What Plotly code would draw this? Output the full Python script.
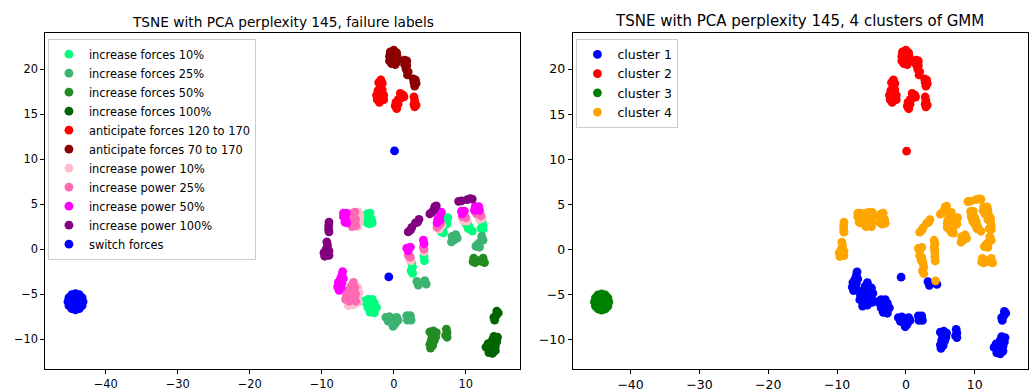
import plotly.graph_objects as go

# ---------------- data: t-SNE points (x, y, GMM cluster) per failure label ----------------
inc_forces_10 = [
    (-3.7, 3.9, 4), (-3.3, 4.0, 4), (-3.6, 3.4, 4), (-3.1, 3.3, 4), (-3.4, 2.8, 4),
    (-3.0, 2.9, 4), (-3.7, 2.9, 4),
    (-3.6, -5.6, 1), (-3.0, -5.6, 1), (-3.8, -6.0, 1), (-3.3, -6.1, 1), (-2.7, -6.0, 1),
    (-3.6, -6.5, 1), (-3.0, -6.6, 1), (-2.4, -6.5, 1), (-3.3, -7.0, 1), (-2.7, -7.1, 1),
    (-4.1, -5.8, 1),
    (2.5, -1.6, 4), (2.6, -2.0, 4), (2.4, -2.4, 4), (2.6, -2.7, 4),
    (4.2, -0.8, 4), (4.25, -1.3, 4),
    (7.5, 3.5, 4), (7.3, 3.1, 4), (7.0, 2.7, 4), (6.8, 2.3, 4), (6.6, 1.9, 4),
    (6.9, 1.8, 4), (7.4, 2.8, 4),
    (10.0, 2.8, 4), (10.4, 2.6, 4), (10.6, 2.2, 4), (10.9, 2.0, 4), (10.3, 2.3, 4),
    (12.3, 3.0, 4), (12.4, 2.6, 4), (12.1, 2.3, 4), (12.4, 2.2, 4),
]
inc_forces_25 = [
    (-1.1, -7.6, 1), (-0.6, -7.5, 1), (-0.1, -7.7, 1), (0.4, -7.6, 1), (0.6, -7.9, 1),
    (-0.8, -8.0, 1), (-0.3, -8.2, 1), (0.2, -8.3, 1), (-0.1, -8.6, 1),
    (1.8, -7.4, 1), (2.3, -7.4, 1), (1.9, -7.9, 1), (2.4, -7.9, 1), (2.1, -7.6, 1),
    (3.2, -3.6, 1), (3.4, -4.0, 1), (4.5, -3.9, 1), (4.3, -3.5, 4),
    (8.1, 1.4, 4), (8.6, 1.6, 4), (8.3, 1.0, 4), (8.8, 1.2, 4), (8.0, 0.8, 4),
    (12.2, 1.4, 4), (12.4, 1.0, 4), (12.0, 0.8, 4), (11.6, 0.5, 4), (11.9, 0.2, 4), (11.4, 0.3, 4),
]
inc_forces_50 = [
    (11.1, -1.0, 4), (11.3, -1.5, 4), (11.0, -1.4, 4), (12.4, -1.0, 4), (12.6, -1.5, 4),
    (12.3, -1.4, 4), (11.8, -1.3, 4),
    (5.0, -9.2, 1), (5.5, -9.1, 1), (5.9, -9.3, 1), (5.3, -9.6, 1), (5.8, -9.8, 1),
    (5.2, -10.1, 1), (5.6, -10.2, 1), (5.0, -10.6, 1), (5.1, -11.0, 1), (5.4, -10.7, 1),
    (7.3, -8.9, 1), (7.4, -9.3, 1), (7.2, -9.6, 1), (7.4, -9.8, 1),
]
inc_forces_100 = [
    (14.3, -6.9, 1), (14.5, -7.1, 1), (14.2, -7.4, 1), (13.9, -7.6, 1), (14.0, -7.9, 1),
    (13.9, -9.7, 1), (14.4, -9.8, 1), (13.7, -10.1, 1), (14.3, -10.3, 1), (13.1, -10.5, 1),
    (13.6, -10.6, 1), (14.1, -10.8, 1), (12.8, -10.9, 1), (13.3, -11.1, 1), (13.8, -11.2, 1),
    (13.2, -11.5, 1), (13.7, -11.6, 1), (14.1, -11.3, 1),
]
antic_120_170 = [
    (-1.8, 18.8, 2), (-2.1, 18.5, 2), (-1.6, 18.4, 2), (-1.9, 18.0, 2), (-2.2, 17.6, 2),
    (-1.6, 17.7, 2), (-2.4, 17.1, 2), (-1.9, 17.2, 2), (-1.4, 17.1, 2), (-2.3, 16.6, 2),
    (-1.8, 16.6, 2), (-1.4, 16.6, 2), (-2.0, 16.3, 2),
    (0.9, 17.3, 2), (1.3, 17.1, 2), (1.0, 16.8, 2), (0.6, 16.6, 2), (0.3, 16.3, 2),
    (0.6, 16.1, 2), (0.2, 15.9, 2), (0.4, 15.6, 2), (1.4, 16.9, 2),
    (2.8, 16.9, 2), (2.9, 16.5, 2), (2.8, 16.1, 2), (3.1, 16.0, 2), (2.9, 15.8, 2),
]
antic_70_170 = [
    (-0.5, 21.9, 2), (0.0, 22.1, 2), (0.4, 21.8, 2), (-0.6, 21.4, 2), (-0.1, 21.5, 2),
    (0.5, 21.3, 2), (-0.6, 20.9, 2), (-0.1, 20.9, 2), (0.4, 20.8, 2), (-0.3, 20.6, 2),
    (0.2, 20.5, 2), (0.0, 21.9, 2),
    (1.5, 21.0, 2), (1.8, 20.9, 2), (1.5, 20.5, 2), (1.8, 20.4, 2), (1.7, 20.0, 2),
    (2.0, 19.7, 2), (1.9, 19.35, 2),
    (2.7, 18.9, 2), (3.0, 18.8, 2), (2.8, 18.5, 2), (3.1, 18.4, 2), (2.9, 18.1, 2),
]
inc_power_10 = [
    (-4.9, 4.1, 4), (-4.7, 3.7, 4), (-4.8, 3.0, 4), (-5.0, 2.5, 4),
    (-5.0, -4.3, 1), (-4.8, -4.9, 1), (-5.0, -5.5, 1), (-5.6, -6.2, 1), (-6.3, -6.3, 1), (-4.9, -5.9, 1),
    (2.2, -1.2, 4), (2.4, -1.3, 4), (4.2, -0.3, 4),
    (6.3, 2.2, 4), (6.7, 2.6, 4),
    (9.7, 3.1, 4), (10.2, 3.1, 4),
    (12.3, 3.4, 4), (11.9, 3.3, 4),
]
inc_power_25 = [
    (-5.8, 4.0, 4), (-5.4, 4.1, 4), (-5.7, 3.5, 4), (-5.3, 3.3, 4), (-5.6, 2.9, 4),
    (-5.3, 2.6, 4), (-5.8, 2.5, 4),
    (-5.6, -3.7, 1), (-5.9, -4.1, 1), (-5.4, -4.3, 1), (-6.3, -4.6, 1), (-5.7, -4.7, 1),
    (-5.3, -5.0, 1), (-6.6, -5.1, 1), (-6.0, -5.3, 1), (-5.5, -5.5, 1), (-6.7, -5.6, 1),
    (-6.2, -5.8, 1), (-5.3, -5.8, 1),
    (2.0, -0.7, 4), (2.3, -0.9, 4),
    (4.1, 0.2, 4), (4.2, 0.0, 4),
    (6.2, 2.6, 4), (6.5, 2.9, 4), (6.0, 2.4, 4),
    (9.5, 3.6, 4), (10.0, 3.5, 4),
    (11.5, 3.9, 4), (12.1, 3.7, 4),
]
inc_power_50 = [
    (-7.0, 4.0, 4), (-6.6, 4.0, 4), (-7.0, 3.6, 4), (-6.7, 3.3, 4), (-6.5, 2.9, 4), (-6.8, 3.0, 4),
    (-7.1, -2.5, 1), (-7.2, -2.9, 1), (-7.4, -3.3, 1), (-7.0, -3.3, 1), (-7.7, -3.7, 1),
    (-7.2, -3.8, 1), (-7.8, -4.2, 1), (-7.3, -4.3, 1), (-7.6, -4.6, 1),
    (1.8, 0.1, 4), (2.3, 0.2, 4), (2.0, -0.2, 4),
    (4.1, 1.0, 4), (4.2, 0.6, 4),
    (6.6, 4.1, 4), (6.4, 3.7, 4), (6.1, 3.3, 4), (6.0, 2.9, 4), (6.4, 3.2, 4),
    (9.4, 4.2, 4), (9.8, 4.2, 4), (9.5, 3.9, 4),
    (11.3, 4.7, 4), (11.8, 4.7, 4), (11.2, 4.3, 4), (11.9, 4.3, 4),
]
inc_power_100 = [
    (-9.0, 3.0, 4), (-9.05, 2.6, 4), (-9.05, 2.2, 4), (-9.0, 1.9, 4),
    (-9.3, 0.8, 4), (-9.2, 0.4, 4), (-9.4, 0.0, 4), (-9.0, -0.2, 4), (-9.7, -0.4, 4),
    (-9.2, -0.6, 4), (-9.6, -0.8, 4), (-9.0, -0.7, 4),
    (2.0, 1.9, 4), (2.3, 2.1, 4), (2.5, 2.4, 4), (3.0, 2.9, 4), (3.3, 3.0, 4), (3.5, 3.3, 4),
    (5.0, 3.9, 4), (5.3, 4.1, 4), (5.6, 4.4, 4), (5.9, 4.8, 4), (5.7, 4.7, 4),
    (9.0, 5.3, 4), (9.4, 5.35, 4), (10.2, 5.5, 4), (10.6, 5.6, 4), (10.9, 5.55, 4),
]
switch_forces = [
    (-44.2, -5.85, 3),
    (-43.15, -5.85, 3), (-43.29, -5.4, 3), (-43.68, -5.07, 3), (-44.2, -4.95, 3),
    (-44.72, -5.07, 3), (-45.11, -5.4, 3), (-45.25, -5.85, 3), (-45.11, -6.3, 3),
    (-44.72, -6.63, 3), (-44.2, -6.75, 3), (-43.68, -6.63, 3), (-43.29, -6.3, 3),
    (-43.65, -5.85, 3), (-44.75, -5.85, 3), (-44.2, -5.41, 3), (-44.2, -6.29, 3),
    (0.1, 10.9, 2), (-0.7, -3.1, 1),
]

failure_labels = [
    "increase forces 10%", "increase forces 25%", "increase forces 50%", "increase forces 100%",
    "anticipate forces 120 to 170", "anticipate forces 70 to 170",
    "increase power 10%", "increase power 25%", "increase power 50%", "increase power 100%",
    "switch forces",
]
failure_points = [
    inc_forces_10, inc_forces_25, inc_forces_50, inc_forces_100,
    antic_120_170, antic_70_170,
    inc_power_10, inc_power_25, inc_power_50, inc_power_100,
    switch_forces,
]
failure_colors = [
    "#00ff7f", "#3cb371", "#228b22", "#006400", "#ff0000", "#8b0000",
    "#ffc0cb", "#ff69b4", "#ff00ff", "#800080", "#0000ff",
]
cluster_ids = [1, 2, 3, 4]
cluster_names = ["cluster 1", "cluster 2", "cluster 3", "cluster 4"]
cluster_colors = ["#0000ff", "#ff0000", "#008000", "#ffa500"]

FONT = "DejaVu Sans"
W, H = 1029, 392
MS = 8.8
fig = go.Figure()

# left panel: coloured by failure label
for name, pts, col in zip(failure_labels, failure_points, failure_colors):
    fig.add_trace(go.Scatter(
        x=[p[0] for p in pts], y=[p[1] for p in pts], mode="markers", name=name,
        marker=dict(size=MS, color=col, line=dict(width=0)),
        xaxis="x", yaxis="y", legend="legend", legendgroup=name,
    ))

# right panel: coloured by GMM cluster
all_pts = [p for pts in failure_points for p in pts]
for cid, name, col in zip(cluster_ids, cluster_names, cluster_colors):
    sel = [p for p in all_pts if p[2] == cid]
    fig.add_trace(go.Scatter(
        x=[p[0] for p in sel], y=[p[1] for p in sel], mode="markers", name=name,
        marker=dict(size=MS, color=col, line=dict(width=0)),
        xaxis="x2", yaxis="y2", legend="legend2", legendgroup=name,
    ))

def axis_style(fs, **kw):
    d = dict(showline=True, mirror=True, linecolor="#000", linewidth=1,
             ticks="outside", ticklen=4, tickwidth=1, tickcolor="#000",
             showgrid=False, zeroline=False,
             tickfont=dict(family=FONT, size=fs, color="#000"))
    d.update(kw)
    return d

ydom = [1 - 372.3 / H, 1 - 33.3 / H]
fig.update_layout(
    width=W, height=H, margin=dict(l=0, r=0, t=0, b=0),
    paper_bgcolor="white", plot_bgcolor="white",
    font=dict(family=FONT, color="#000"),
    xaxis=axis_style(11.4, domain=[45.3 / W, 520.7 / W], range=[-48.4, 17.55],
                     tickvals=[-40, -30, -20, -10, 0, 10], anchor="y"),
    yaxis=axis_style(11.4, domain=ydom, range=[-13.38, 24.0],
                     tickvals=[-10, -5, 0, 5, 10, 15, 20], anchor="x"),
    xaxis2=axis_style(12.5, domain=[573.3 / W, 1028.5 / W], range=[-48.4, 17.66],
                      tickvals=[-40, -30, -20, -10, 0, 10], anchor="y2"),
    yaxis2=axis_style(12.5, domain=ydom, range=[-13.34, 24.0],
                      tickvals=[-10, -5, 0, 5, 10, 15, 20], anchor="x2"),
    legend=dict(x=48 / W, y=1 - 39 / H, xanchor="left", yanchor="top",
                bgcolor="rgba(255,255,255,0.8)", bordercolor="#cccccc", borderwidth=1,
                font=dict(family=FONT, size=11.4, color="#000"), tracegroupgap=0),
    legend2=dict(x=577 / W, y=1 - 39 / H, xanchor="left", yanchor="top",
                 bgcolor="rgba(255,255,255,0.8)", bordercolor="#cccccc", borderwidth=1,
                 font=dict(family=FONT, size=12.5, color="#000"), tracegroupgap=0),
    annotations=[
        dict(text="TSNE with PCA perplexity 145, failure labels", x=283 / W, y=1 - 21.7 / H,
             xref="paper", yref="paper", showarrow=False, xanchor="center", yanchor="middle",
             font=dict(family=FONT, size=13.7, color="#000")),
        dict(text="TSNE with PCA perplexity 145, 4 clusters of GMM", x=800.7 / W, y=1 - 20.7 / H,
             xref="paper", yref="paper", showarrow=False, xanchor="center", yanchor="middle",
             font=dict(family=FONT, size=15.0, color="#000")),
    ],
)

fig.write_html("out.html")
